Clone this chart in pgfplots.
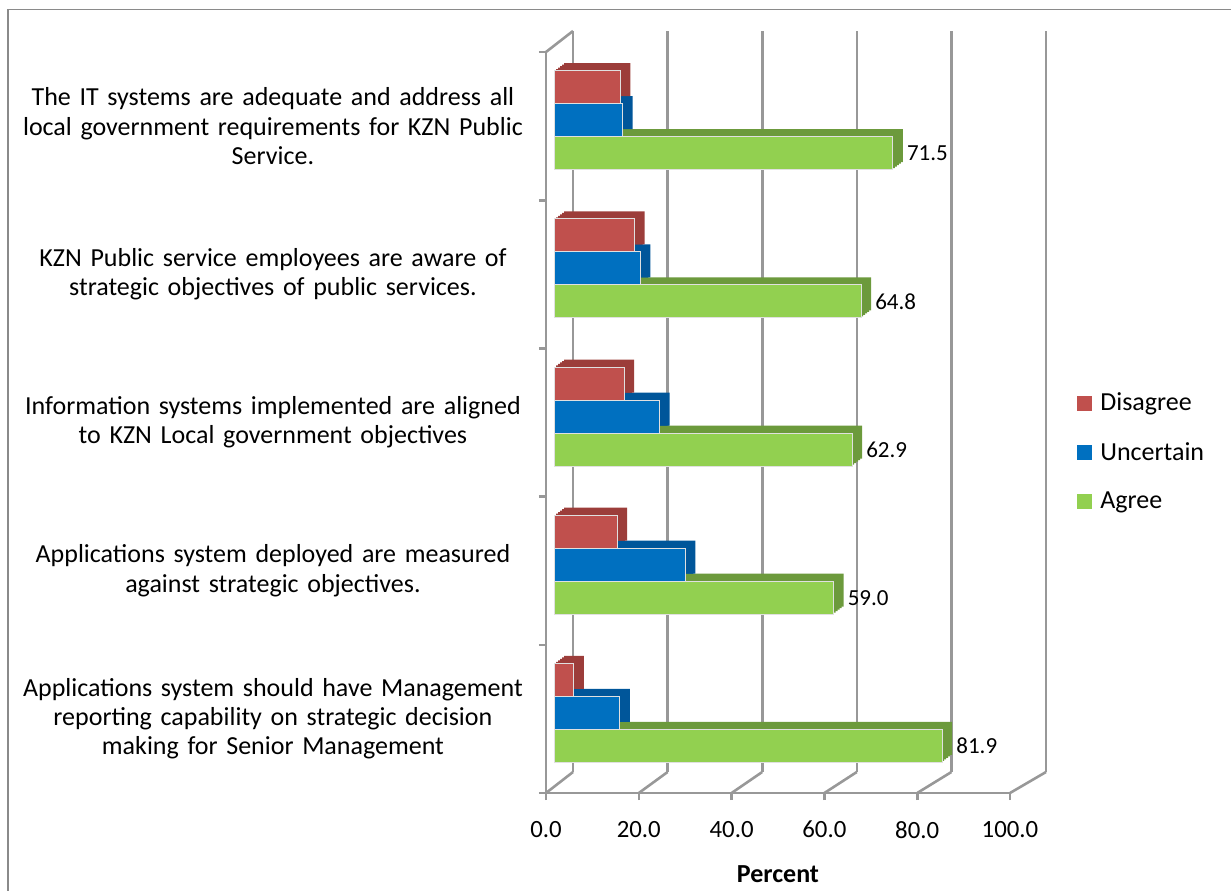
\documentclass[border=0pt]{standalone}
\usepackage{pgfplots}
\usepackage{pgfplotstable}
\pgfplotsset{compat=1.18}
\usepackage{fontspec}
\setmainfont{Carlito}
\definecolor{cRed}{HTML}{C0504D}
\definecolor{cBlue}{HTML}{0070C0}
\definecolor{cGreen}{HTML}{92D050}
\definecolor{sRed}{HTML}{9C3D3A}
\definecolor{sBlue}{HTML}{00569A}
\definecolor{sGreen}{HTML}{6C9A3C}
\definecolor{gridgray}{HTML}{989898}
\definecolor{framegray}{HTML}{8A8A8A}

\pgfplotstableread{
y D U A
0 4.2 13.9 81.9
1 13.3 27.7 59.0
2 14.8 22.3 62.9
3 17.0 18.2 64.8
4 14.0 14.5 71.5
}\datatab

\newcommand{\mainfs}{\fontsize{13}{14.6}\selectfont}
\newcommand{\tickfs}{\fontsize{12.4}{14.6}\selectfont}

% one layer of the bars' depth (3D faces), shifted by #1,#2 from the bar fronts
\newcommand{\depthlayer}[2]{%
\begin{axis}[at={(277pt+#1,51.5pt+#2)}, anchor=south west, scale only axis,
  width=237pt, height=370.5pt,
  xmin=0, xmax=100, ymin=-0.5, ymax=4.5,
  hide axis, xbar, bar width=16.5pt]
\addplot[fill=sGreen, draw=none, bar shift=-16.5pt] table[x=A,y=y]{\datatab};
\addplot[fill=sBlue, draw=none, bar shift=0pt] table[x=U,y=y]{\datatab};
\addplot[fill=sRed, draw=none, bar shift=16.5pt] table[x=D,y=y]{\datatab};
\end{axis}}

\begin{document}
\begin{tikzpicture}
% outer frame
\draw[line width=0.6pt, framegray] (4pt,-10pt) rectangle (640pt,440.25pt);

% back wall
\begin{axis}[at={(286.5pt,59pt)}, anchor=south west, scale only axis,
  width=236.5pt, height=370.5pt,
  xmin=0, xmax=100, ymin=-0.5, ymax=4.5,
  axis line style={draw=none},
  xtick={0,20,40,60,80,100}, xticklabels={}, ytick=\empty,
  major tick length=0pt,
  xmajorgrids, major grid style={color=gridgray, line width=1.3pt}]
\end{axis}

% floor and top diagonals
\foreach \a/\b in {273pt/286.5pt, 319.4pt/333.8pt, 365.8pt/381.1pt, 412.2pt/428.4pt, 458.6pt/475.7pt, 505pt/523pt}
  \draw[gridgray, line width=1.3pt] (\a,48.5pt) -- (\b,59pt);
\draw[gridgray, line width=1.3pt] (273pt,419pt) -- (286.5pt,429.5pt);

% front axis: lines, ticks, labels, legend
\begin{axis}[at={(273pt,48.5pt)}, anchor=south west, scale only axis,
  width=232pt, height=370.5pt,
  xmin=0, xmax=100, ymin=-0.5, ymax=4.5,
  axis x line*=bottom, axis y line*=left,
  axis line style={gridgray, line width=1.3pt},
  tick style={gridgray, line width=1.3pt},
  tick align=outside, major tick length=3.5pt,
  xtick={0,20,40,60,80,100},
  /pgf/number format/assume math mode=true,
  xticklabel={\pgfmathprintnumber[fixed,fixed zerofill,precision=1]{\tick}},
  xticklabel style={yshift=-7pt, font=\tickfs},
  tick label style={text=black},
  ytick={-0.5,0.5,1.5,2.5,3.5,4.5}, yticklabels={},
  extra y ticks={0,1,2,3,4},
  extra y tick labels={
    {Applications system should have Management\\reporting capability on strategic decision\\making for Senior Management},
    {Applications system deployed are measured\\against strategic objectives.},
    {Information systems implemented are aligned\\to KZN Local government objectives},
    {KZN Public service employees are aware of\\strategic objectives of public services.},
    {The IT systems are adequate and address all\\local government requirements for KZN Public\\Service.}},
  extra y tick style={major tick length=0pt, grid=none,
    yticklabel style={font=\mainfs, text width=262pt, align=center, xshift=-2pt}},
  xlabel={Percent},
  xlabel style={font=\bfseries\mainfs, yshift=-7pt},
  legend style={at={(1.13,0.46)}, anchor=west, draw=none, fill=none,
    font=\mainfs, row sep=10.3pt},
  legend cell align=left,
  legend image code/.code={\fill[#1] (0pt,-3.7pt) rectangle (7.4pt,3.7pt); \path (9.8pt,0pt);}]
\addlegendimage{fill=cRed, draw=none}
\addlegendentry{Disagree}
\addlegendimage{fill=cBlue, draw=none}
\addlegendentry{Uncertain}
\addlegendimage{fill=cGreen, draw=none}
\addlegendentry{Agree}
\end{axis}

% bar depth (3D side and top faces), built up in layers
\depthlayer{1pt}{0.75pt}
\depthlayer{2pt}{1.5pt}
\depthlayer{3pt}{2.25pt}
\depthlayer{4pt}{3pt}
\depthlayer{5pt}{3.75pt}

% bar front faces
\begin{axis}[at={(277pt,51.5pt)}, anchor=south west, scale only axis,
  width=237pt, height=370.5pt,
  xmin=0, xmax=100, ymin=-0.5, ymax=4.5,
  hide axis, xbar, bar width=16.5pt]
\addplot[fill=cGreen, draw=black!12, line width=0.5pt, bar shift=-16.5pt,
  point meta=x,
  nodes near coords={\pgfmathprintnumber[fixed,fixed zerofill,precision=1,assume math mode=true]{\pgfplotspointmeta}},
  nodes near coords style={anchor=west, xshift=3.5pt, font=\fontsize{11.5}{13}\selectfont, text=black}]
  table[x=A,y=y]{\datatab};
\addplot[fill=cBlue, draw=black!12, line width=0.5pt, bar shift=0pt] table[x=U,y=y]{\datatab};
\addplot[fill=cRed, draw=black!12, line width=0.5pt, bar shift=16.5pt] table[x=D,y=y]{\datatab};
\end{axis}

\pgfresetboundingbox
\useasboundingbox (0,0) rectangle (615.5pt,445pt);
\end{tikzpicture}
\end{document}
